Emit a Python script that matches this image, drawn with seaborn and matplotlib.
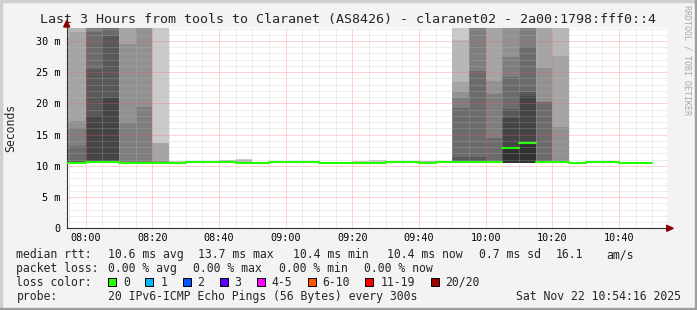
import numpy as np
import pandas as pd
import matplotlib
matplotlib.use("Agg")
import matplotlib.pyplot as plt
import seaborn as sns
from matplotlib.patches import Polygon, Rectangle

# ---------------- data ----------------
# 5-minute bins, start time in minutes after 08:00
bin_start = [-10, -5, 0, 5, 10, 15, 20, 25, 30, 35, 40, 45, 50, 55, 60, 65, 70, 75,
             80, 85, 90, 95, 100, 105, 110, 115, 120, 125, 130, 135, 140, 145, 150,
             155, 160, 165]
median_ms = [10.5, 10.5, 10.6, 10.6, 10.4, 10.4, 10.4, 10.4, 10.6, 10.6, 10.6, 10.4,
             10.4, 10.6, 10.6, 10.6, 10.4, 10.4, 10.4, 10.4, 10.6, 10.6, 10.4, 10.6,
             10.6, 10.6, 10.6, 12.9, 13.7, 10.6, 10.6, 10.4, 10.6, 10.6, 10.4, 10.4]
ping_low_ms = [10.4, 10.4, 10.45, 10.45, 10.3, 10.3, 10.3, 10.3, 10.5, 10.5, 10.5, 10.3,
               10.3, 10.5, 10.5, 10.5, 10.3, 10.3, 10.3, 10.3, 10.5, 10.5, 10.3, 10.5,
               10.5, 10.5, 10.5, 10.4, 10.4, 10.5, 10.5, 10.3, 10.5, 10.5, 10.3, 10.3]
# the 10 slowest of the 20 pings in every bin, ascending (ms)
ping_high_ms = [
    [10.6, 10.65, 10.7, 13.0, 16.0, 17.0, 30.5, 33.0, 36.0, 40.0],
    [10.6, 10.65, 10.7, 13.2, 16.1, 17.2, 31.4, 33.5, 36.0, 40.0],
    [10.65, 18.05, 25.5, 31.4, 33.0, 35.0, 38.0, 41.0, 44.0, 48.0],
    [10.65, 20.8, 30.8, 33.0, 35.0, 38.0, 41.0, 44.0, 47.0, 50.0],
    [10.5, 10.55, 10.6, 10.65, 16.85, 29.5, 33.0, 36.0, 39.0, 42.0],
    [10.5, 10.55, 10.6, 10.65, 19.35, 33.0, 36.0, 39.0, 42.0, 45.0],
    [10.5, 10.55, 10.6, 10.62, 10.65, 10.7, 13.6, 13.6, 33.0, 38.0],
    [10.45, 10.5, 10.5, 10.55, 10.55, 10.6, 10.6, 10.65, 10.7, 10.75],
    [10.62, 10.63, 10.64, 10.65, 10.66, 10.67, 10.68, 10.69, 10.7, 10.72],
    [10.62, 10.63, 10.64, 10.65, 10.66, 10.67, 10.68, 10.7, 10.72, 10.75],
    [10.62, 10.63, 10.64, 10.65, 10.66, 10.68, 10.7, 10.72, 10.95, 11.0],
    [10.45, 10.5, 10.52, 10.55, 10.58, 10.6, 10.62, 11.0, 11.05, 11.1],
    [10.42, 10.45, 10.48, 10.5, 10.52, 10.55, 10.58, 10.6, 10.62, 10.65],
    [10.62, 10.63, 10.64, 10.65, 10.66, 10.68, 10.7, 10.72, 10.74, 10.76],
    [10.62, 10.63, 10.64, 10.65, 10.66, 10.67, 10.68, 10.7, 10.72, 10.74],
    [10.62, 10.63, 10.64, 10.65, 10.66, 10.67, 10.68, 10.7, 10.71, 10.73],
    [10.42, 10.45, 10.48, 10.5, 10.52, 10.55, 10.58, 10.6, 10.62, 10.64],
    [10.42, 10.45, 10.48, 10.5, 10.52, 10.55, 10.58, 10.6, 10.62, 10.65],
    [10.45, 10.48, 10.5, 10.52, 10.55, 10.58, 10.6, 10.62, 10.83, 10.85],
    [10.45, 10.48, 10.5, 10.52, 10.55, 10.58, 10.6, 10.62, 10.9, 10.92],
    [10.62, 10.63, 10.64, 10.65, 10.66, 10.67, 10.68, 10.7, 10.72, 10.74],
    [10.62, 10.63, 10.64, 10.65, 10.66, 10.67, 10.68, 10.7, 10.72, 10.75],
    [10.45, 10.48, 10.5, 10.52, 10.55, 10.58, 10.6, 10.8, 10.82, 10.85],
    [10.62, 10.63, 10.64, 10.65, 10.66, 10.67, 10.68, 10.7, 10.72, 10.74],
    [10.65, 10.7, 11.5, 19.3, 20.9, 21.8, 23.4, 30.2, 34.0, 38.0],
    [10.65, 10.7, 11.5, 25.2, 33.0, 35.0, 37.0, 39.0, 41.0, 43.0],
    [10.65, 10.7, 10.75, 14.5, 21.5, 23.6, 33.0, 35.0, 37.0, 39.0],
    [13.0, 17.6, 19.05, 24.3, 27.5, 33.0, 35.0, 37.0, 39.0, 41.0],
    [13.8, 21.2, 21.9, 29.1, 33.0, 35.0, 37.0, 39.0, 41.0, 43.0],
    [10.65, 10.68, 10.7, 20.2, 20.2, 25.6, 33.0, 35.0, 37.0, 39.0],
    [10.65, 10.68, 10.7, 10.72, 10.75, 16.2, 27.6, 33.0, 35.0, 38.0],
    [10.42, 10.45, 10.48, 10.5, 10.52, 10.55, 10.58, 10.6, 10.62, 10.64],
    [10.62, 10.63, 10.64, 10.65, 10.66, 10.67, 10.68, 10.7, 10.72, 10.74],
    [10.62, 10.63, 10.64, 10.65, 10.66, 10.67, 10.68, 10.7, 10.72, 10.74],
    [10.42, 10.45, 10.48, 10.5, 10.52, 10.55, 10.58, 10.6, 10.62, 10.64],
    [10.42, 10.45, 10.48, 10.5, 10.52, 10.55, 10.58, 10.6, 10.62, 10.64],
]

y_ticks = [0, 5, 10, 15, 20, 25, 30]
y_tick_labels = ["0", "5 m", "10 m", "15 m", "20 m", "25 m", "30 m"]
x_ticks = [0, 20, 40, 60, 80, 100, 120, 140, 160]
x_tick_labels = ["08:00", "08:20", "08:40", "09:00", "09:20", "09:40",
                 "10:00", "10:20", "10:40"]

title = "Last 3 Hours from tools to Claranet (AS8426) - claranet02 - 2a00:1798:fff0::4"
stats_rtt = ["10.6 ms avg", "13.7 ms max", "10.4 ms min", "10.4 ms now", "0.7 ms sd", "16.1", "am/s"]
stats_loss = ["0.00 % avg", "0.00 % max", "0.00 % min", "0.00 % now"]
loss_labels = ["0", "1", "2", "3", "4-5", "6-10", "11-19", "20/20"]
loss_colors = ["#26ff00", "#00b8ff", "#0059ff", "#5e00ff", "#ff00ff", "#ff5500", "#ff0000", "#a10000"]
probe_text = "20 IPv6-ICMP Echo Pings (56 Bytes) every 300s"
stamp_text = "Sat Nov 22 10:54:16 2025"

# ---------------- layout ----------------
W, H, DPI = 697, 310, 100
MONO = "DejaVu Sans Mono"

sns.set_theme(style="white")
plt.rcParams["font.family"] = [MONO, "DejaVu Sans"]

def fx(x):
    return x / W

def fy(y):
    return 1 - y / H

fig = plt.figure(figsize=(W / DPI, H / DPI), dpi=DPI, facecolor="#f3f3f3")
ax_l, ax_r, ax_t, ax_b = 66.7, 666.7, 28.0, 228.3
ax = fig.add_axes([fx(ax_l), fy(ax_b), (ax_r - ax_l) / W, (ax_b - ax_t) / H])
ax.set_facecolor("white")

t0 = -5 - 44 / 60
t1 = 174 + 16 / 60
ax.set_xlim(t0, t1)
ax.set_ylim(0, (ax_b - ax_t) / 6.243)

# smoke (SmokePing style: layer k spans ping k .. ping 19-k)
starts = np.array(bin_start, dtype=float)
low = np.array(ping_low_ms)
high = np.array(ping_high_ms)
for k in range(10):
    g = int(190 / 10 * (10 - (k + 1))) + 50
    col = "#%02x%02x%02x" % (g, g, g)
    top = high[:, 9 - k]
    ax.bar(starts, top - low, bottom=low, width=5, align="edge", color=col,
           edgecolor="none", linewidth=0, zorder=1)

# median line (loss 0 -> green)
n = len(bin_start)
seg = pd.DataFrame({
    "t": np.concatenate([[s, s + 5] for s in bin_start]),
    "median": np.repeat(median_ms, 2),
    "bin": np.repeat(np.arange(n), 2),
})
sns.lineplot(data=seg, x="t", y="median", units="bin", estimator=None,
             color="#26ff00", lw=1.5, ax=ax, zorder=3, legend=False)
ax.set_xlabel("")
ax.set_ylabel("")

# grid (fine 1-on-1-off dots in rrdtool; rendered as half-strength hairlines)
ax.set_axisbelow(False)
ax.set_xticks(x_ticks)
ax.set_xticklabels(x_tick_labels)
ax.set_xticks(np.arange(-5, 175, 5), minor=True)
ax.set_yticks(y_ticks)
ax.set_yticklabels(y_tick_labels)
ax.set_yticks(np.arange(1, 33, 1), minor=True)
ax.grid(which="minor", color="#b8b8b8", alpha=0.5, linestyle=(0, (1, 1)), linewidth=0.72, snap=True)
ax.grid(which="major", color="#ff5f5f", alpha=0.55, linestyle=(0, (1, 1)), linewidth=0.72, snap=True)
ax.tick_params(which="minor", length=0)
ax.tick_params(which="major", length=2.4, width=0.72, color="black", direction="out",
               labelsize=7.3, labelcolor="black")
ax.tick_params(axis="y", pad=2.4)
ax.tick_params(axis="x", pad=1.2)
for s in ["top", "right"]:
    ax.spines[s].set_visible(False)
for s in ["left", "bottom"]:
    ax.spines[s].set_color("#303030")
    ax.spines[s].set_linewidth(0.8)

# axis arrows
arrow_col = "#8b0000"
fig.patches.append(Polygon([(fx(ax_r), fy(ax_b - 3)), (fx(ax_r + 6.5), fy(ax_b)), (fx(ax_r), fy(ax_b + 3))],
                           closed=True, transform=fig.transFigure, color=arrow_col, zorder=5))
fig.lines.append(plt.Line2D([fx(ax_l), fx(ax_l)], [fy(ax_t), fy(ax_t - 3)], transform=fig.transFigure,
                            color="#303030", lw=0.8))
fig.patches.append(Polygon([(fx(ax_l - 3), fy(ax_t - 1)), (fx(ax_l), fy(ax_t - 7.5)), (fx(ax_l + 3), fy(ax_t - 1))],
                           closed=True, transform=fig.transFigure, color=arrow_col, zorder=5))

# frame
fig.patches.append(Rectangle((0, fy(2)), 1, 2 / H, transform=fig.transFigure, color="#cfcfcf", zorder=0))
fig.patches.append(Rectangle((0, 0), 2 / W, 1, transform=fig.transFigure, color="#cfcfcf", zorder=0))
fig.patches.append(Rectangle((0, 0), 1, 2 / H, transform=fig.transFigure, color="#9e9e9e", zorder=0))
fig.patches.append(Rectangle((fx(W - 2), 0), 2 / W, 1, transform=fig.transFigure, color="#9e9e9e", zorder=0))

# texts
fig.text(fx(348), fy(19.3), title, ha="center", va="center", fontsize=9.6, family=MONO)
fig.text(fx(10.5), fy(127.5), "Seconds", ha="center", va="center", rotation=90, fontsize=8.3, family=MONO)
fig.text(fx(687), fy(60), "RRDTOOL / TOBI OETIKER", ha="center", va="center", rotation=270,
         fontsize=6, family=MONO, color="#a8a8a8")

FS = 8.3
y1, y2, y3, y4 = 254.7, 268.3, 282.3, 296.3
fig.text(fx(16.4), fy(y1), "median rtt:", ha="left", va="center", fontsize=FS, family=MONO)
for s, x in zip(stats_rtt, [107.6, 198.5, 293.3, 386.7, 479, 555.6, 606.7]):
    fig.text(fx(x), fy(y1), s, ha="left", va="center", fontsize=FS, family=MONO)
fig.text(fx(16.4), fy(y2), "packet loss:", ha="left", va="center", fontsize=FS, family=MONO)
for s, x in zip(stats_loss, [107.6, 193.3, 279, 364.4]):
    fig.text(fx(x), fy(y2), s, ha="left", va="center", fontsize=FS, family=MONO)
fig.text(fx(16.4), fy(y3), "loss color:", ha="left", va="center", fontsize=FS, family=MONO)
for lab, c, xs, xl in zip(loss_labels, loss_colors,
                          [108.4, 145.3, 182.7, 220, 256.9, 308, 365.3, 430.7],
                          [123.6, 160.4, 197.3, 234.2, 271.6, 322.7, 380.4, 444.9]):
    fig.patches.append(Rectangle((fx(xs), fy(y3 + 4)), 8 / W, 8 / H, transform=fig.transFigure,
                                 facecolor=c, edgecolor="black", linewidth=0.72, zorder=3))
    fig.text(fx(xl), fy(y3), lab, ha="left", va="center", fontsize=FS, family=MONO)
fig.text(fx(16.4), fy(y4), "probe:", ha="left", va="center", fontsize=FS, family=MONO)
fig.text(fx(107.6), fy(y4), probe_text, ha="left", va="center", fontsize=FS, family=MONO)
fig.text(fx(681), fy(y4), stamp_text, ha="right", va="center", fontsize=FS, family=MONO)

fig.savefig("out.png", dpi=DPI, facecolor=fig.get_facecolor())
